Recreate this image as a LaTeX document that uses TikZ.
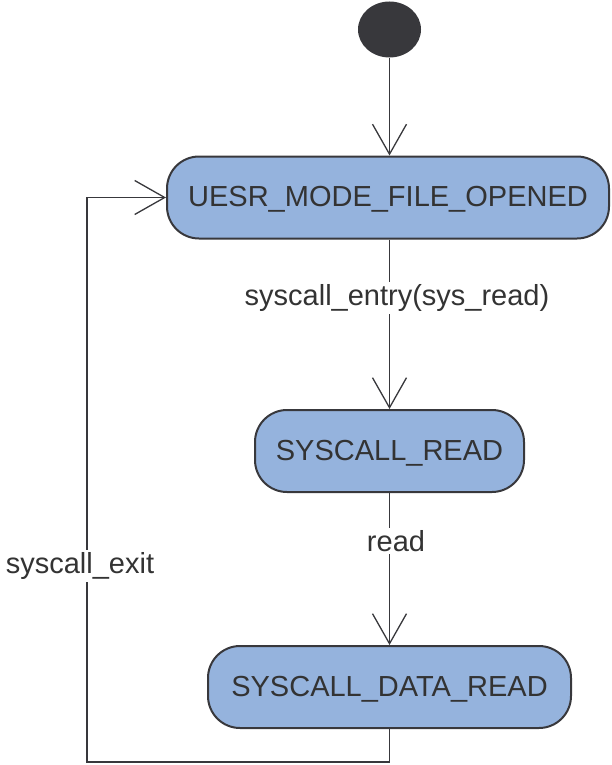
\documentclass[tikz,border=0pt]{standalone}
\usepackage{fontspec}
\setmainfont{Liberation Sans}
\usetikzlibrary{arrows.meta,shapes.geometric}
\definecolor{stateblue}{HTML}{95B3DD}
\definecolor{edgegray}{HTML}{38383C}
\definecolor{inkgray}{HTML}{333333}
\tikzset{
  state/.style={draw=edgegray, line width=2pt, fill=stateblue, rounded corners=32pt,
    minimum height=82pt, text=inkgray, font=\fontsize{29}{34}\selectfont, inner sep=0pt,
    text height=21pt, text depth=3pt},
  initial/.style={ellipse, fill=edgegray, minimum width=63pt, minimum height=56pt, inner sep=0pt},
  trans/.style={draw=edgegray, line width=1.3pt,
    -{Straight Barb[length=30pt, width=34pt, line width=1.3pt]}},
  lbl/.style={fill=white, text=inkgray, font=\fontsize{29}{34}\selectfont, inner sep=2pt}
}
\begin{document}
\begin{tikzpicture}[x=1pt, y=-1pt]
  \useasboundingbox (0,0) rectangle (611,765);
  % states
  \node[initial] (init) at (389.5,29.5) {};
  \node[state, minimum width=442pt] (opened) at (388,197.5) {UESR\_MODE\_FILE\_OPENED};
  \node[state, minimum width=269pt] (sysread) at (389.5,451) {SYSCALL\_READ};
  \node[state, minimum width=363pt] (dataread) at (389.5,687) {SYSCALL\_DATA\_READ};
  \coordinate (loopcorner) at (87,762);
  % transitions
  \draw[trans] (init.south) -- (init.south |- opened.north);
  \draw[trans] (opened.south -| sysread.north) -- (sysread.north);
  \draw[trans] (sysread.south) -- (dataread.north);
  \draw[trans] (dataread.south) |- (loopcorner) |- (opened.west);
  % transition labels
  \node[lbl] (lentry) at (397,298) {syscall\_entry(sys\_read)};
  \node[lbl] (lread) at (396,541) {read};
  \node[lbl] (lexit) at (80,566) {syscall\_exit};
\end{tikzpicture}
\end{document}
